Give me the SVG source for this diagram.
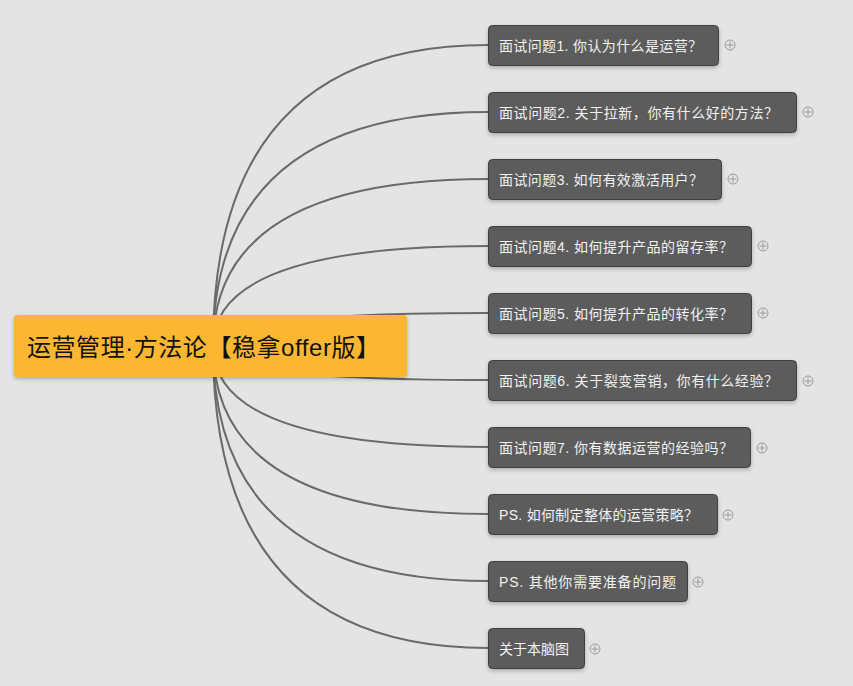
<svg xmlns="http://www.w3.org/2000/svg" width="853" height="686" viewBox="0 0 853 686">
<defs>
<filter id="sh" x="-10%" y="-20%" width="120%" height="150%"><feDropShadow dx="0" dy="2" stdDeviation="2" flood-color="#000" flood-opacity="0.25"/></filter>
<g id="plus"><circle r="5" fill="none" stroke="#9a9a9a" stroke-width="1"/><path d="M-3.5,0H3.5M0,-3.5V3.5" stroke="#9a9a9a" stroke-width="1"/></g>
</defs>
<style>
.c{fill:none;stroke:#6a6a6a;stroke-width:2}
.n{fill:#5b5b5b;stroke:#3f3f3f;stroke-width:1;filter:url(#sh)}
.t{font-family:"Liberation Sans","Noto Sans CJK SC",sans-serif;font-size:14px;fill:#f2f2f2}
.root{fill:#fbb731;filter:url(#sh)}
.rt{font-family:"Liberation Sans","Noto Sans CJK SC",sans-serif;font-size:24px;fill:#111}
</style>
<rect width="853" height="686" fill="#e4e4e4"/>
<g id="connectors">
<path class="c" d="M213,346 Q213,45 488,45"/>
<path class="c" d="M213,346 Q213,112 488,112"/>
<path class="c" d="M213,346 Q213,179 488,179"/>
<path class="c" d="M213,346 Q213,246 488,246"/>
<path class="c" d="M213,346 Q213,313 488,313"/>
<path class="c" d="M213,346 Q213,380 488,380"/>
<path class="c" d="M213,346 Q213,447 488,447"/>
<path class="c" d="M213,346 Q213,514 488,514"/>
<path class="c" d="M213,346 Q213,581 488,581"/>
<path class="c" d="M213,346 Q213,648 488,648"/>
</g>
<g id="root"><rect class="root" x="14" y="315" width="393" height="62" rx="3"/><text class="rt" x="27" y="356" textLength="353" lengthAdjust="spacing">运营管理·方法论【稳拿offer版】</text></g>
<g id="n1"><rect class="n" x="488.5" y="25.5" width="230" height="40" rx="4"/><text class="t" x="499" y="51" textLength="203" lengthAdjust="spacing">面试问题1. 你认为什么是运营？</text><use href="#plus" x="730" y="45"/></g>
<g id="n2"><rect class="n" x="488.5" y="92.5" width="308" height="40" rx="4"/><text class="t" x="499" y="118" textLength="279" lengthAdjust="spacing">面试问题2. 关于拉新，你有什么好的方法？</text><use href="#plus" x="808" y="112"/></g>
<g id="n3"><rect class="n" x="488.5" y="159.5" width="233" height="40" rx="4"/><text class="t" x="499" y="185" textLength="204" lengthAdjust="spacing">面试问题3. 如何有效激活用户？</text><use href="#plus" x="733" y="179"/></g>
<g id="n4"><rect class="n" x="488.5" y="226.5" width="263" height="40" rx="4"/><text class="t" x="499" y="252" textLength="234" lengthAdjust="spacing">面试问题4. 如何提升产品的留存率？</text><use href="#plus" x="763" y="246"/></g>
<g id="n5"><rect class="n" x="488.5" y="293.5" width="263" height="40" rx="4"/><text class="t" x="499" y="319" textLength="234" lengthAdjust="spacing">面试问题5. 如何提升产品的转化率？</text><use href="#plus" x="763" y="313"/></g>
<g id="n6"><rect class="n" x="488.5" y="360.5" width="308" height="40" rx="4"/><text class="t" x="499" y="386" textLength="279" lengthAdjust="spacing">面试问题6. 关于裂变营销，你有什么经验？</text><use href="#plus" x="808" y="381"/></g>
<g id="n7"><rect class="n" x="488.5" y="427.5" width="262" height="40" rx="4"/><text class="t" x="499" y="453" textLength="234" lengthAdjust="spacing">面试问题7. 你有数据运营的经验吗？</text><use href="#plus" x="762" y="448"/></g>
<g id="n8"><rect class="n" x="488.5" y="494.5" width="229" height="40" rx="4"/><text class="t" x="499" y="520" textLength="199" lengthAdjust="spacing">PS. 如何制定整体的运营策略？</text><use href="#plus" x="728" y="515"/></g>
<g id="n9"><rect class="n" x="488.5" y="561.5" width="199" height="40" rx="4"/><text class="t" x="499" y="587" textLength="177" lengthAdjust="spacing">PS. 其他你需要准备的问题</text><use href="#plus" x="698" y="582"/></g>
<g id="n10"><rect class="n" x="488.5" y="628.5" width="96" height="40" rx="4"/><text class="t" x="499" y="654">关于本脑图</text><use href="#plus" x="595" y="649"/></g>
</svg>
